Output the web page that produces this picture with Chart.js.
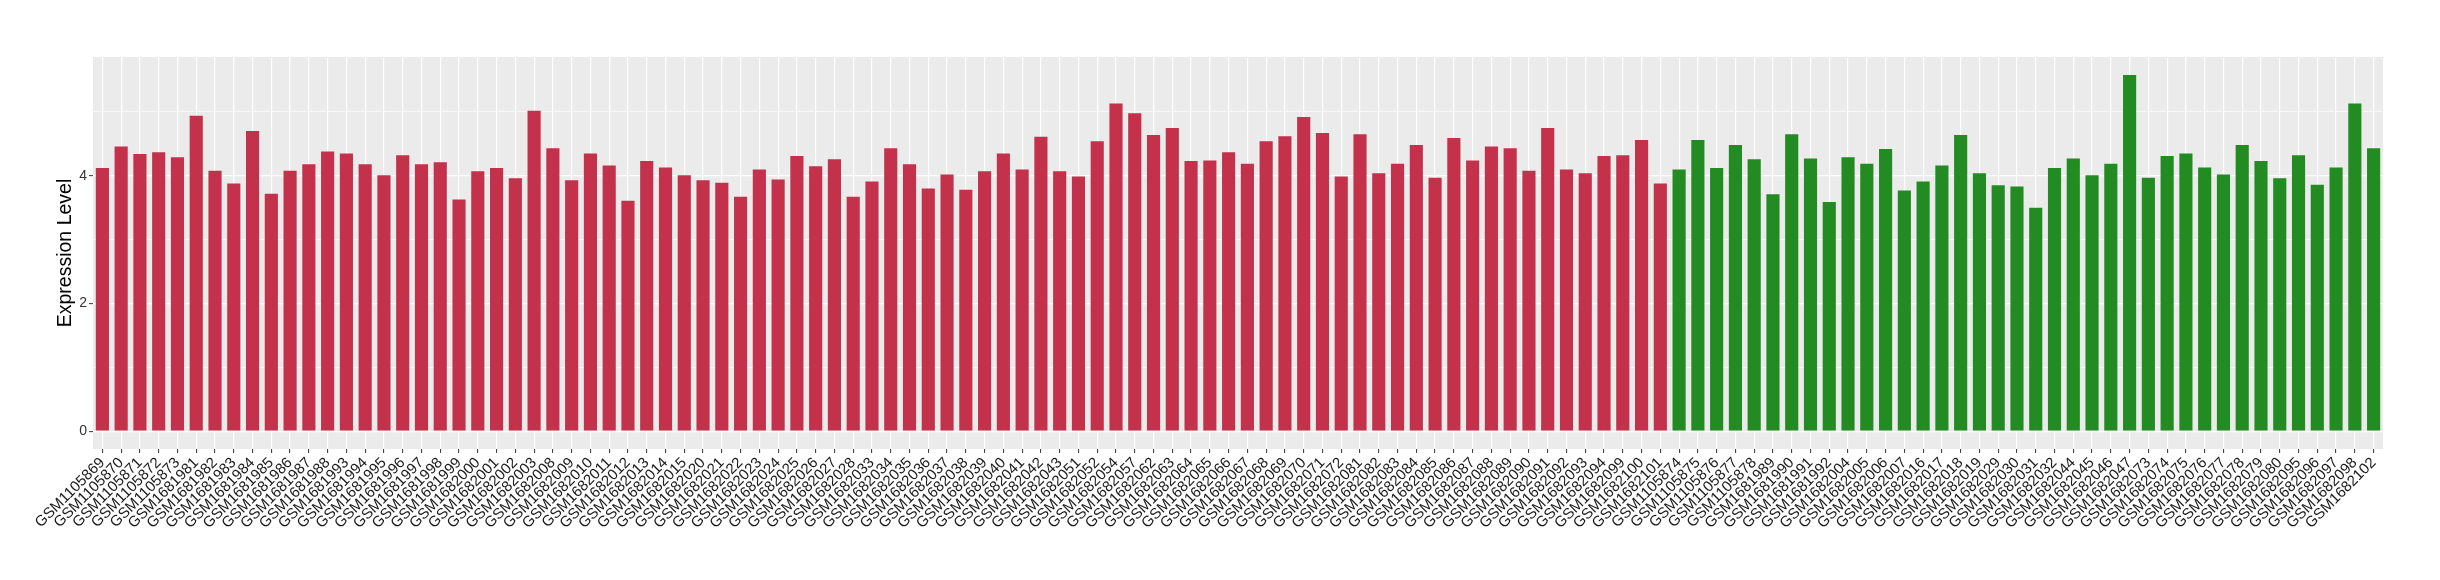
<!DOCTYPE html>
<html>
<head>
<meta charset="utf-8">
<script src="https://cdn.jsdelivr.net/npm/chart.js@4"></script>
<style>
  body { margin: 0; background: #ffffff; }
</style>
</head>
<body>
<canvas id="myChart" width="2440" height="580"></canvas>
<script>
// red group samples
const redSamples = [
    'GSM1105869', 'GSM1105870', 'GSM1105871', 'GSM1105872', 'GSM1105873',
    'GSM1681981', 'GSM1681982', 'GSM1681983', 'GSM1681984', 'GSM1681985', 'GSM1681986', 'GSM1681987', 'GSM1681988',
    'GSM1681993', 'GSM1681994', 'GSM1681995', 'GSM1681996', 'GSM1681997', 'GSM1681998', 'GSM1681999',
    'GSM1682000', 'GSM1682001', 'GSM1682002', 'GSM1682003',
    'GSM1682008', 'GSM1682009', 'GSM1682010', 'GSM1682011', 'GSM1682012', 'GSM1682013', 'GSM1682014', 'GSM1682015',
    'GSM1682020', 'GSM1682021', 'GSM1682022', 'GSM1682023', 'GSM1682024', 'GSM1682025', 'GSM1682026', 'GSM1682027', 'GSM1682028',
    'GSM1682033', 'GSM1682034', 'GSM1682035', 'GSM1682036', 'GSM1682037', 'GSM1682038', 'GSM1682039', 'GSM1682040', 'GSM1682041', 'GSM1682042', 'GSM1682043',
    'GSM1682051', 'GSM1682052', 'GSM1682054', 'GSM1682057',
    'GSM1682062', 'GSM1682063', 'GSM1682064', 'GSM1682065', 'GSM1682066', 'GSM1682067', 'GSM1682068', 'GSM1682069', 'GSM1682070', 'GSM1682071', 'GSM1682072',
    'GSM1682081', 'GSM1682082', 'GSM1682083', 'GSM1682084', 'GSM1682085', 'GSM1682086', 'GSM1682087', 'GSM1682088', 'GSM1682089', 'GSM1682090', 'GSM1682091', 'GSM1682092', 'GSM1682093', 'GSM1682094',
    'GSM1682099', 'GSM1682100', 'GSM1682101'
]
const redValues = [
    4.12, 4.46, 4.34, 4.37, 4.29,
    4.94, 4.08, 3.88, 4.70, 3.72, 4.08, 4.18, 4.38,
    4.35, 4.18, 4.01, 4.32, 4.18, 4.21, 3.63,
    4.07, 4.12, 3.96, 5.02,
    4.43, 3.93, 4.35, 4.16, 3.61, 4.23, 4.13, 4.01,
    3.93, 3.89, 3.67, 4.10, 3.94, 4.31, 4.15, 4.26, 3.67,
    3.91, 4.43, 4.18, 3.80, 4.02, 3.78, 4.07, 4.35, 4.10, 4.61,
    4.07, 3.99, 4.54, 5.13,
    4.98, 4.64, 4.75, 4.23, 4.24, 4.37, 4.19, 4.54, 4.62, 4.92, 4.67,
    3.99, 4.65, 4.04, 4.19, 4.48, 3.97, 4.59, 4.24, 4.46, 4.43, 4.08, 4.75, 4.10, 4.04,
    4.31, 4.32, 4.56, 3.88
]

// green group samples
const greenSamples = [
    'GSM1105874', 'GSM1105875', 'GSM1105876', 'GSM1105877', 'GSM1105878',
    'GSM1681989', 'GSM1681990', 'GSM1681991', 'GSM1681992',
    'GSM1682004', 'GSM1682005', 'GSM1682006', 'GSM1682007',
    'GSM1682016', 'GSM1682017', 'GSM1682018', 'GSM1682019',
    'GSM1682029', 'GSM1682030', 'GSM1682031', 'GSM1682032',
    'GSM1682044', 'GSM1682045', 'GSM1682046', 'GSM1682047',
    'GSM1682073', 'GSM1682074', 'GSM1682075', 'GSM1682076', 'GSM1682077', 'GSM1682078', 'GSM1682079', 'GSM1682080',
    'GSM1682095', 'GSM1682096', 'GSM1682097', 'GSM1682098',
    'GSM1682102'
]
const greenValues = [
    4.10, 4.56, 4.12, 4.48, 4.26,
    3.71, 4.65, 4.27, 3.59,
    4.29, 4.19, 4.42, 3.77,
    3.91, 4.16, 4.64, 4.04,
    3.85, 3.83, 3.50, 4.12,
    4.27, 4.01, 4.19, 5.58,
    3.97, 4.31, 4.35, 4.13, 4.02, 4.48, 4.23, 3.96,
    4.32, 3.86, 4.13, 5.13,
    4.43
]

const yTicks = [0, 1, 2, 3, 4, 5]

const redColor = '#c3314a'
const greenColor = '#228b22'

const labels = redSamples.concat(greenSamples)
const values = redValues.concat(greenValues)
const colors = redSamples.map(() => redColor).concat(greenSamples.map(() => greenColor))

const panelBackground = {
    id: 'panelBackground',
    beforeDraw(chart) {
        const { ctx, chartArea } = chart
        ctx.save()
        ctx.fillStyle = '#ebebeb'
        ctx.fillRect(chartArea.left, chartArea.top, chartArea.right - chartArea.left, chartArea.bottom - chartArea.top)
        ctx.restore()
    }
}

let ctx = document.getElementById('myChart')

new Chart(ctx, {
    type: 'bar',
    data: {
        labels: labels,
        datasets: [{
            data: values,
            backgroundColor: colors,
            borderWidth: 0,
            barPercentage: 0.7,
            categoryPercentage: 1
        }]
    },
    options: {
        responsive: false,
        animation: false,
        layout: {
            padding: { top: 57, right: 57, left: 0, bottom: 0 }
        },
        plugins: {
            legend: { display: false },
            tooltip: { enabled: false }
        },
        scales: {
            x: {
                offset: true,
                afterFit: (scale) => { scale.height = 131 },
                border: { display: false },
                grid: {
                    offset: false,
                    color: '#ffffff',
                    lineWidth: 1.2,
                    drawTicks: true,
                    tickLength: 4,
                    tickColor: '#333333',
                    tickWidth: 1
                },
                ticks: {
                    autoSkip: false,
                    minRotation: 45,
                    maxRotation: 45,
                    padding: 1,
                    color: '#1a1a1a',
                    font: { family: 'Liberation Sans', size: 15 }
                }
            },
            y: {
                min: -0.279,
                max: 5.86,
                afterBuildTicks: (scale) => { scale.ticks = yTicks.map(v => ({ value: v })) },
                afterFit: (scale) => { scale.width = 93 },
                border: { display: false },
                grid: {
                    color: '#ffffff',
                    lineWidth: (c) => (c.tick && c.tick.value % 2 === 0) ? 1.3 : 0.7,
                    drawTicks: true,
                    tickLength: 4,
                    tickColor: (c) => (c.tick && c.tick.value % 2 === 0) ? '#333333' : 'rgba(0,0,0,0)',
                    tickWidth: 1
                },
                ticks: {
                    padding: 2,
                    color: '#333333',
                    font: { family: 'Liberation Sans', size: 14 },
                    callback: (v) => v % 2 === 0 ? String(v) : ''
                },
                title: {
                    display: true,
                    text: 'Expression Level',
                    color: '#000000',
                    font: { family: 'Liberation Sans', size: 19.5 },
                    padding: { top: 54, bottom: 0 }
                }
            }
        }
    },
    plugins: [panelBackground]
});
</script>
</body>
</html>
